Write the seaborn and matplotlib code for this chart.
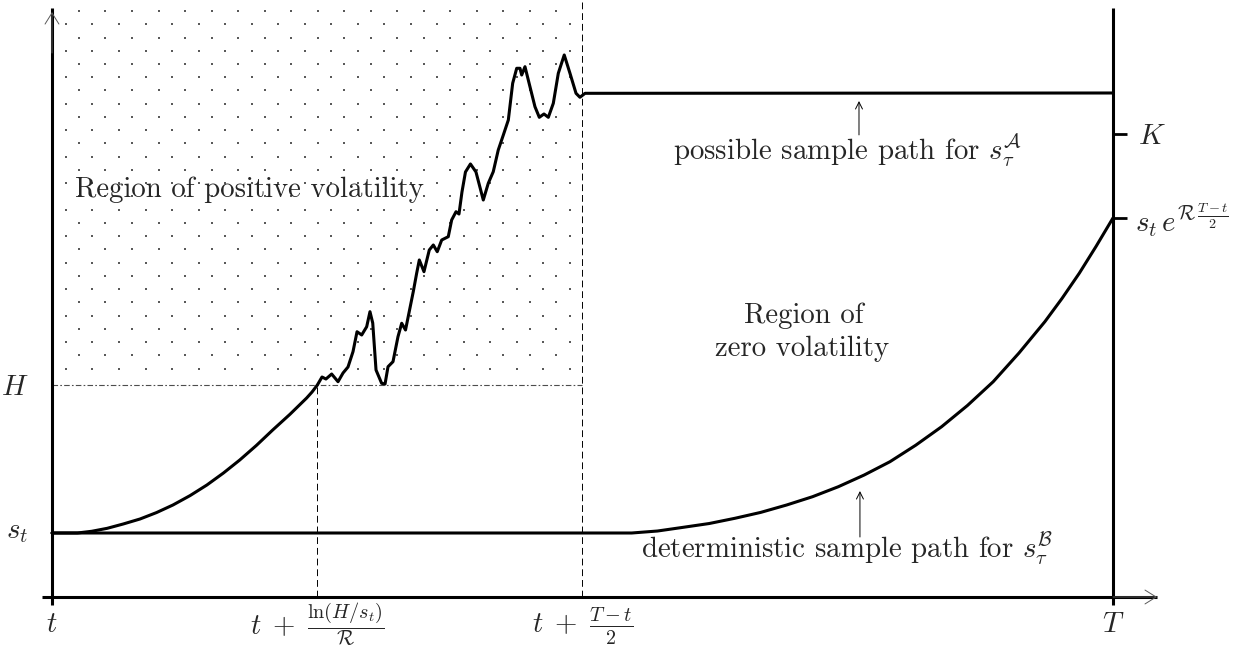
import numpy as np
import matplotlib
matplotlib.use('Agg')
import matplotlib.pyplot as plt
import seaborn as sns

# time axis: t = 0 ... T = 1, price axis in units of s_t (s_t = 1)
# path A before it reaches the barrier H
pre_t = [0.0, 0.024, 0.0375, 0.052, 0.0672, 0.083, 0.0985, 0.114, 0.1301, 0.146,
         0.1616, 0.177, 0.1927, 0.208, 0.2243, 0.240, 0.2451, 0.250]
pre_s = [1.0, 1.0, 1.027, 1.073, 1.141, 1.219, 1.319, 1.4375, 1.584, 1.75,
         1.9375, 2.141, 2.369, 2.609, 2.855, 3.109, 3.203, 3.31]

# path A in the region of positive volatility
path_t = [0.2545, 0.2582, 0.2636, 0.2696, 0.2743, 0.2790, 0.2837, 0.2875, 0.2919, 0.2966,
          0.2997, 0.3023, 0.3054, 0.3107, 0.3139, 0.3167, 0.3214, 0.3261, 0.3296, 0.3332,
          0.3374, 0.3405, 0.3437, 0.3462, 0.3506, 0.3556, 0.3594, 0.3631, 0.3673, 0.3735,
          0.3767, 0.3808, 0.3836, 0.3864, 0.3897, 0.3944, 0.3996, 0.4065, 0.4112, 0.4159,
          0.4206, 0.4254, 0.4301, 0.4342, 0.4380, 0.4411, 0.4427, 0.4458, 0.4505, 0.4552,
          0.4593, 0.4637, 0.4678, 0.4725, 0.4772, 0.4828, 0.4882, 0.4939, 0.4976, 0.5024]
path_s = [3.4375, 3.406, 3.484, 3.364, 3.5, 3.594, 3.833, 4.145, 4.094, 4.223,
          4.458, 4.281, 3.547, 3.339, 3.328, 3.598, 3.677, 4.067, 4.277, 4.172,
          4.516, 4.770, 5.058, 5.266, 5.083, 5.422, 5.5, 5.395, 5.578, 5.630,
          5.891, 6.020, 5.984, 6.328, 6.641, 6.766, 6.641, 6.203, 6.464, 6.645,
          6.984, 7.219, 7.453, 8.027, 8.261, 8.261, 8.156, 8.286, 7.973, 7.661,
          7.495, 7.547, 7.495, 7.714, 8.183, 8.469, 8.183, 7.870, 7.808, 7.870]

# path A frozen after (T-t)/2
flat_t = [0.5024, 1.0]
flat_s = [7.870, 7.875]

# deterministic path B
det_t = [0.0, 0.5464, 0.5707, 0.595, 0.6194, 0.6437, 0.668, 0.6924, 0.7168, 0.7411,
         0.7655, 0.7898, 0.8141, 0.8385, 0.8628, 0.8871, 0.9114, 0.9358, 0.9519, 0.9682,
         0.984, 1.0]
det_s = [1.0, 1.0, 1.031, 1.089, 1.148, 1.230, 1.322, 1.4375, 1.567, 1.723,
         1.906, 2.114, 2.372, 2.661, 2.992, 3.364, 3.8125, 4.302, 4.664, 5.058,
         5.477, 5.922]

s_t = 1.0
H = 3.31
K = 7.234
s_end = 5.922
t_hit = 0.25
t_mid = 0.5
T = 1.0

sns.set_style('white')
plt.rcParams['font.family'] = ['cmr10', 'DejaVu Serif']
plt.rcParams['mathtext.fontset'] = 'cm'
plt.rcParams['axes.unicode_minus'] = False
fs = 20.8

fig = plt.figure(figsize=(12.47, 6.45), dpi=100)
ax = fig.add_axes([0, 0, 1, 1])
ax.set_xlim(-0.049, 1.1263)
ax.set_ylim(-0.75, 9.328)
ax.axis('off')

# dotted texture of the positive volatility region
gx, gy = [], []
dt, ds = 0.02498, 0.2070
for k in range(28):
    yy = 9.156 - k * ds
    x0 = 0.02545 if k % 2 == 0 else 0.0132
    xs = np.arange(x0, 0.495, dt)
    gx += list(xs)
    gy += [yy] * len(xs)
sns.scatterplot(x=gx, y=gy, marker='s', s=2.4, color='0.35', linewidth=0, ax=ax, zorder=1)

# guide lines
ax.plot([0, t_mid], [H, H], color='0.3', lw=0.8, ls=(0, (5, 2, 1.5, 2)), zorder=2)
ax.plot([t_hit, t_hit], [0, H], color='k', lw=0.7, ls=(0, (7, 4)), zorder=2)
ax.plot([t_mid, t_mid], [0, 9.328], color='k', lw=0.7, ls=(0, (7, 4)), zorder=2)

# axes
ax.plot([0, 0], [-0.125, 9.2], color='k', lw=2.2, solid_capstyle='butt')
ax.plot([T, T], [-0.125, 9.2], color='k', lw=2.2, solid_capstyle='butt')
ax.plot([-0.0094, 1.0415], [0, 0], color='k', lw=2.2, solid_capstyle='butt')
head = dict(arrowstyle='->,head_length=0.8,head_width=0.5', color='0.35', lw=0.7,
            shrinkA=0, shrinkB=0)
ax.annotate('', xy=(0, 9.14), xytext=(0, 8.5), arrowprops=head)
ax.annotate('', xy=(1.0415, 0), xytext=(1.0, 0), arrowprops=head)
ax.plot([T, 1.0136], [K, K], color='k', lw=2, solid_capstyle='butt')
ax.plot([T, 1.0136], [s_end, s_end], color='k', lw=2, solid_capstyle='butt')

# sample paths
sns.lineplot(x=pre_t + path_t + flat_t, y=pre_s + path_s + flat_s, sort=False,
             estimator=None, color='k', lw=2.2, ax=ax, zorder=3,
             solid_joinstyle='round', solid_capstyle='round')
sns.lineplot(x=det_t, y=det_s, sort=False, estimator=None, color='k', lw=2.2, ax=ax,
             zorder=3, solid_joinstyle='round')

# texts
ax.text(0.0217, 6.255, 'Region of positive volatility', fontsize=fs, va='baseline', ha='left')
ax.text(0.7088, 4.281, 'Region of', fontsize=fs, va='baseline', ha='center')
ax.text(0.7069, 3.766, 'zero volatility', fontsize=fs, va='baseline', ha='center')
ax.text(0.5853, 6.844, r'possible sample path for $s_\tau^{\mathcal{A}}$', fontsize=fs,
        va='baseline', ha='left')
ax.text(0.5551, 0.609, r'deterministic sample path for $s_\tau^{\mathcal{B}}$', fontsize=fs,
        va='baseline', ha='left')
small = dict(arrowstyle='->,head_length=0.5,head_width=0.25', color='k', lw=0.7,
             shrinkA=0, shrinkB=0)
ax.annotate('', xy=(0.7606, 7.75), xytext=(0.7606, 7.22), arrowprops=small)
ax.annotate('', xy=(0.7615, 1.656), xytext=(0.7615, 0.9375), arrowprops=small)

ax.text(-0.0349, 3.156, r'$H$', fontsize=fs, va='baseline', ha='center')
ax.text(-0.0325, 0.922, r'$s_t$', fontsize=fs, va='baseline', ha='center')
ax.text(1.0236, 7.073, r'$K$', fontsize=fs, va='baseline', ha='left')
ax.text(1.0207, 5.708, r'$s_t\,e^{\mathcal{R}\,\frac{T-t}{2}}$', fontsize=fs, va='baseline', ha='left')

ax.text(0, -0.542, r'$t$', fontsize=fs, va='baseline', ha='center')
ax.text(t_hit, -0.56, r'$t\;+\;\frac{\ln(H/s_t)}{\mathcal{R}}$', fontsize=fs, va='baseline', ha='center')
ax.text(t_mid, -0.56, r'$t\;+\;\frac{T-t}{2}$', fontsize=fs, va='baseline', ha='center')
ax.text(T, -0.542, r'$T$', fontsize=fs, va='baseline', ha='center')

fig.savefig('out.png', dpi=100)
